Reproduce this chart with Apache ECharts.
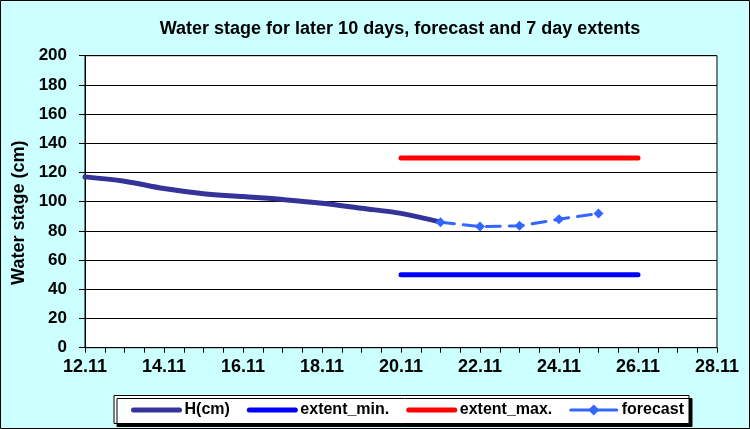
<!DOCTYPE html>
<html>
<head>
<meta charset="utf-8">
<script src="https://cdn.jsdelivr.net/npm/echarts@6/dist/echarts.min.js"></script>
<style>html,body{margin:0;padding:0;background:#CCFFFF;}#c{width:750px;height:429px;}</style>
</head>
<body>
<div id="c"></div>
<script>
// ---- data ----
var hDates = ['12.11','13.11','14.11','15.11','16.11','17.11','18.11','19.11','20.11','21.11'];
var hValues = [117, 114, 109, 105.5, 103.5, 101.5, 99, 95.5, 92, 86];
var extentDates = ['20.11','26.11'];
var extentMin = [50, 50];
var extentMax = [130, 130];
var forecastDates = ['21.11','22.11','23.11','24.11','25.11'];
var forecastValues = [86, 83, 83.5, 88, 92];
var xTickDays = [12, 28];       // axis range (day of November)
var yTicks = [0, 200, 20];     // min, max, step

function day(d){ return parseFloat(d.split('.')[0]); }
function pairs(dates, vals){ return dates.map(function(d,i){ return [day(d), vals[i]]; }); }

var FONT = 'Arial, "Liberation Sans", sans-serif';
var chart = echarts.init(document.getElementById('c'), null, {renderer:'canvas'});
chart.setOption({
  backgroundColor: '#CCFFFF',
  animation: false,
  title: {
    text: 'Water stage for later 10 days, forecast and 7 day extents',
    left: 400, top: 20, textAlign: 'center', padding: 0,
    textStyle: {fontFamily: FONT, fontSize: 18, fontWeight: 'bold', color: '#000'}
  },
  graphic: [
    {type:'rect', z: 0, shape:{x:114, y:395.5, width:575, height:28},
     style:{fill:'#fff', stroke:'#000', lineWidth:1, shadowColor:'#000', shadowOffsetX:3, shadowOffsetY:3, shadowBlur:0}},
    {type:'rect', z: 100, silent:true, shape:{x:0.5, y:0.5, width:749, height:428},
     style:{fill:'none', stroke:'#000', lineWidth:1}}
  ],
  legend: {
    left: 131, top: 402, padding: 0,
    itemWidth: 46, itemHeight: 14, itemGap: 17,
    textStyle: {fontFamily: FONT, fontSize: 16, fontWeight: 'bold', color: '#000'},
    data: [
      {name: 'H(cm)', itemStyle: {opacity: 0}, lineStyle: {width: 5, cap: 'round', color: '#333399'}},
      {name: 'extent_min.', itemStyle: {opacity: 0}, lineStyle: {width: 5, cap: 'round', color: '#0000FF'}},
      {name: 'extent_max.', itemStyle: {opacity: 0}, lineStyle: {width: 5, cap: 'round', color: '#FF0000'}},
      {name: 'forecast', lineStyle: {width: 3, type: [20, 6], color: '#3366FF'}}
    ]
  },
  grid: {left: 85, right: 33, top: 55.7, bottom: 81.3, show: true, backgroundColor: '#fff', borderColor: '#000', borderWidth: 1},
  xAxis: {
    type: 'value', min: xTickDays[0], max: xTickDays[1], interval: 2,
    axisLine: {lineStyle: {color: '#000', width: 1}},
    axisTick: {show: true, inside: false, length: 5, lineStyle: {color: '#000'}},
    minorTick: {show: true, splitNumber: 4, length: 5, lineStyle: {color: '#000'}},
    splitLine: {show: false},
    axisLabel: {margin: 10, fontFamily: FONT, fontSize: 18, fontWeight: 'bold', color: '#000',
      formatter: function(v){ return v + '.11'; }}
  },
  yAxis: {
    type: 'value', min: yTicks[0], max: yTicks[1], interval: yTicks[2],
    name: 'Water stage (cm)', nameLocation: 'middle', nameGap: 46,
    nameTextStyle: {fontFamily: FONT, fontSize: 18, fontWeight: 'bold', color: '#000', padding: [0, 22, 0, 0]},
    axisLine: {show: true, lineStyle: {color: '#000', width: 1}},
    axisTick: {show: true, inside: false, length: 6, lineStyle: {color: '#000'}},
    splitLine: {show: true, lineStyle: {color: '#000', width: 1}},
    axisLabel: {margin: 18, fontFamily: FONT, fontSize: 17, fontWeight: 'bold', color: '#000'}
  },
  series: [
    {name: 'H(cm)', type: 'line', smooth: 0.35, symbol: 'none', data: pairs(hDates, hValues),
     color: '#333399', lineStyle: {color: '#333399', width: 5, cap: 'round'}, z: 3},
    {name: 'extent_min.', type: 'line', symbol: 'none', data: pairs(extentDates, extentMin),
     color: '#0000FF', lineStyle: {color: '#0000FF', width: 5, cap: 'round'}, z: 2},
    {name: 'extent_max.', type: 'line', symbol: 'none', data: pairs(extentDates, extentMax),
     color: '#FF0000', lineStyle: {color: '#FF0000', width: 5, cap: 'round'}, z: 2},
    {name: 'forecast', type: 'line', symbol: 'diamond', symbolSize: 10, data: pairs(forecastDates, forecastValues),
     color: '#3366FF', itemStyle: {color: '#3366FF'},
     lineStyle: {color: '#3366FF', width: 3, type: [14, 9], cap: 'round'}, z: 4}
  ]
});
</script>
</body>
</html>
